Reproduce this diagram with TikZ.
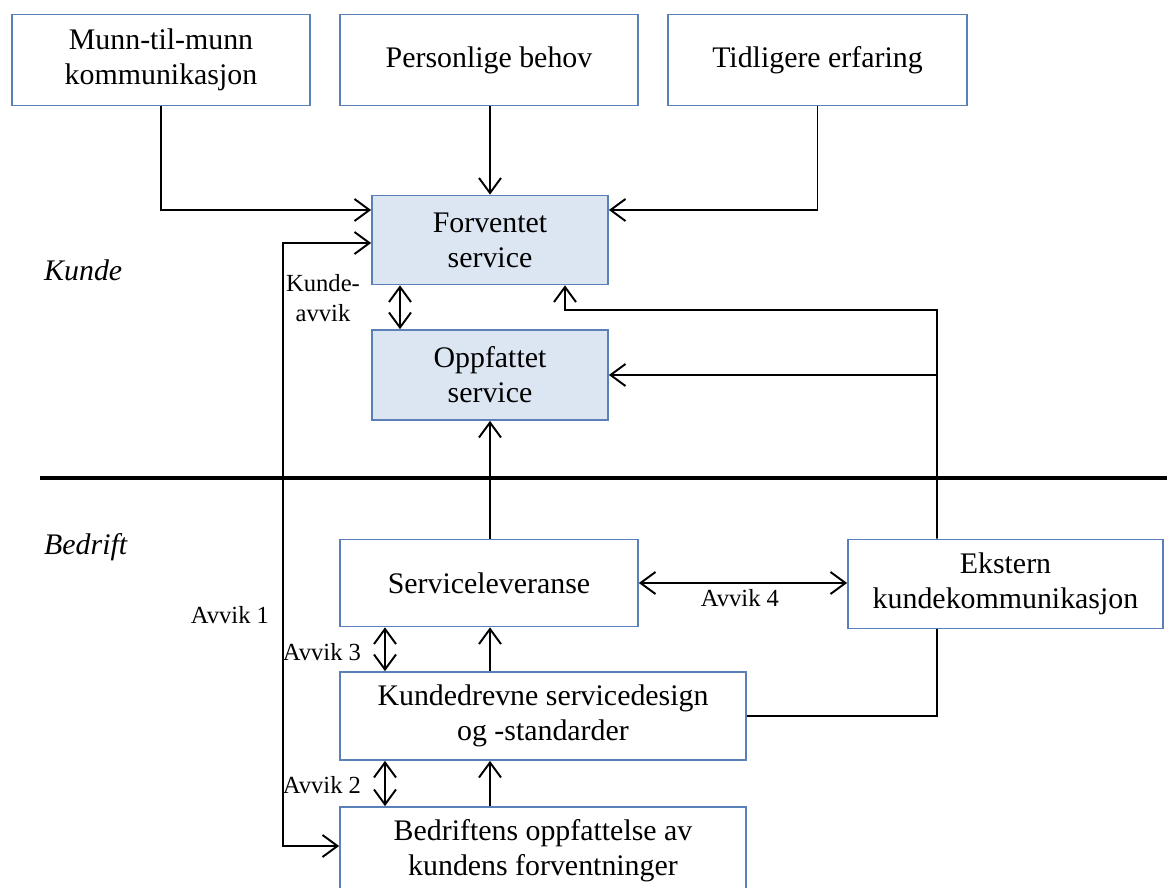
\documentclass[tikz,border=0pt]{standalone}
\usepackage{fontspec}
\setmainfont{Liberation Serif}
\usepackage{xcolor}
\usetikzlibrary{arrows.meta}

\definecolor{boksramme}{HTML}{5B80B8}
\definecolor{boksfyll}{HTML}{DCE6F2}

\tikzset{
  >={Straight Barb[length=3mm,width=4.4mm]},
  boks/.style={draw=boksramme, line width=1pt, align=center,
    font=\fontsize{17}{20}\selectfont, inner sep=2pt},
  kundeboks/.style={boks, fill=boksfyll},
  pil/.style={line width=1.1pt},
  etikett/.style={font=\fontsize{14}{17}\selectfont, align=center},
  sone/.style={font=\fontsize{17}{20}\selectfont\itshape, anchor=west}
}

\begin{document}
\begin{tikzpicture}
            \useasboundingbox (0,0) rectangle (23.34,-17.76);

            % Boksene i kundedelen
            \node[boks, minimum width=5.96cm, minimum height=1.82cm] (munn) at (3.22,-1.2) {Munn-til-munn\\kommunikasjon};
            \node[boks, minimum width=5.96cm, minimum height=1.82cm] (behov) at (9.78,-1.2) {Personlige behov};
            \node[boks, minimum width=5.98cm, minimum height=1.82cm] (erfaring) at (16.35,-1.2) {Tidligere erfaring};
            \node[kundeboks, minimum width=4.72cm, minimum height=1.78cm] (forventet) at (9.8,-4.8) {Forventet\\service};
            \node[kundeboks, minimum width=4.72cm, minimum height=1.8cm] (oppfattet) at (9.8,-7.5) {Oppfattet\\service};

            % Boksene i bedriftsdelen
            \node[boks, minimum width=5.96cm, minimum height=1.74cm] (leveranse) at (9.78,-11.66) {Serviceleveranse};
            \node[boks, minimum width=6.3cm, minimum height=1.78cm] (ekstern) at (20.11,-11.68) {Ekstern\\kundekommunikasjon};
            \node[boks, minimum width=8.12cm, minimum height=1.76cm] (design) at (10.86,-14.32) {Kundedrevne servicedesign\\og -standarder};
            \node[boks, minimum width=8.12cm, minimum height=1.76cm] (oppfattelse) at (10.86,-17.02) {Bedriftens oppfattelse av\\kundens forventninger};

            % Skillelinje og soner
            \coordinate (skille_v) at (0.8,-9.56);
            \coordinate (skille_h) at (23.34,-9.56);
            \draw[line width=2pt] (skille_v) -- (skille_h);
            \node[sone] (kunde) at (0.76,-5.4) {Kunde};
            \node[sone] (bedrift) at (0.76,-10.94) {Bedrift};

            % Pilene inn til forventet service
            \draw[pil,->] (munn.south) |- ([yshift=0.6cm]forventet.west);
            \draw[pil,->] (forventet.north |- behov.south) -- (forventet.north);
            \draw[pil,->] (erfaring.south) |- ([yshift=0.6cm]forventet.east);

            % Avvik 1
            \coordinate (a1) at (5.66,-10);
            \draw[pil,<->] ([yshift=-0.06cm]forventet.west) -| (a1) |- ([yshift=0.1cm]oppfattelse.west);
            \node[etikett] (avvik1) at (4.6,-12.3) {Avvik 1};

            % Kundeavvik
            \draw[pil,<->] ([xshift=-1.8cm]forventet.south) -- ([xshift=-1.8cm]oppfattet.north);
            \node[etikett] (kundeavvik) at (6.46,-5.96) {Kunde-\\avvik};

            % Ekstern kundekommunikasjon
            \coordinate (hjorne) at (18.74,-6.2);
            \draw[pil,->] ([xshift=-1.37cm]ekstern.north) -- (hjorne) -| ([xshift=1.5cm]forventet.south);
            \draw[pil,->] (hjorne |- oppfattet.east) -- (oppfattet.east);
            \draw[pil] (design.east) -| ([xshift=-1.37cm]ekstern.south);

            % Avvik 4
            \draw[pil,<->] (leveranse.east) -- (ekstern.west |- leveranse.east);
            \node[etikett] (avvik4) at (14.8,-11.96) {Avvik 4};

            % Pilene oppover i bedriften
            \draw[pil,->] (oppfattet.south |- leveranse.north) -- (oppfattet.south);
            \draw[pil,->] (oppfattet.south |- design.north) -- (oppfattet.south |- leveranse.south);
            \draw[pil,->] (oppfattet.south |- oppfattelse.north) -- (oppfattet.south |- design.south);

            % Avvik 3 og Avvik 2
            \draw[pil,<->] ([xshift=-2.08cm]leveranse.south) -- ([xshift=-2.08cm]leveranse.south |- design.north);
            \node[etikett] (avvik3) at (6.44,-13.04) {Avvik 3};
            \draw[pil,<->] ([xshift=-3.16cm]design.south) -- ([xshift=-3.16cm]oppfattelse.north);
            \node[etikett] (avvik2) at (6.44,-15.7) {Avvik 2};

        \end{tikzpicture}
\end{document}
